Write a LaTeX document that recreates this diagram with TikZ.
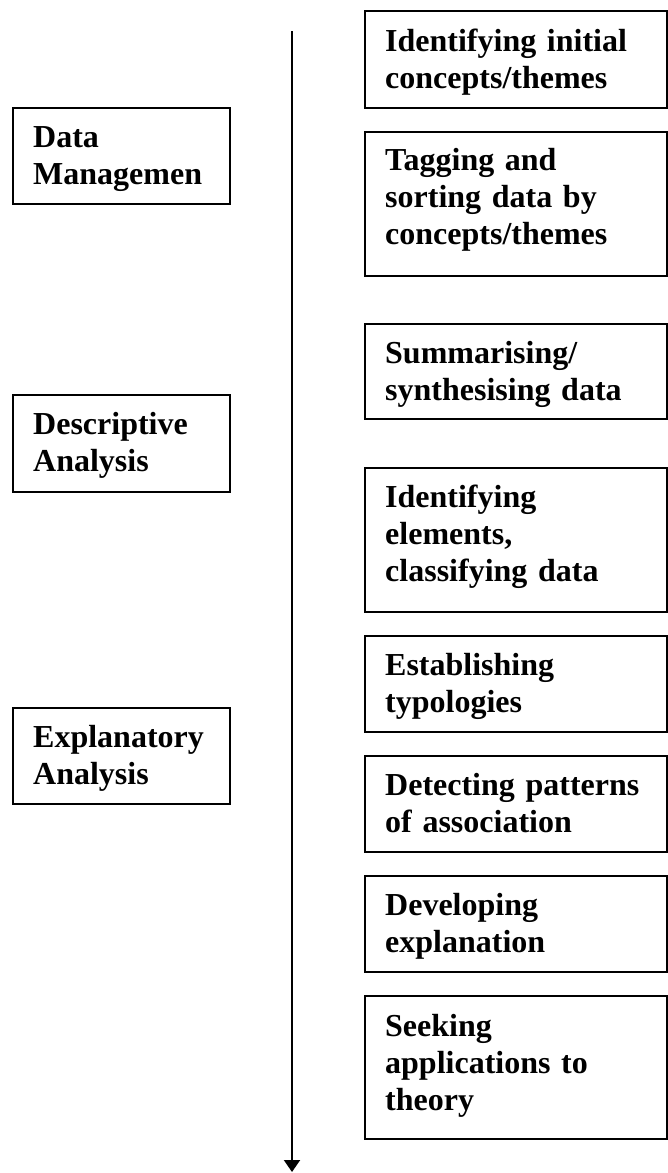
\documentclass[tikz,border=0pt]{standalone}
\usepackage{fontspec}
\setmainfont{Liberation Serif}
\usetikzlibrary{arrows.meta}

\begin{document}
\begin{tikzpicture}[x=1pt,y=-1pt,
  stagebox/.style={draw, line width=1.8pt, anchor=north west, inner sep=0pt,
    minimum width=217pt},
  stepbox/.style={draw, line width=1.8pt, anchor=north west, inner sep=0pt,
    minimum width=302pt},
  lbl/.style={anchor=base west, inner sep=0pt, text width=300pt, align=left,
    font=\fontsize{32}{37}\selectfont\bfseries},
]
\useasboundingbox (0,0) rectangle (667,1173);

% stage boxes on the left
\node[stagebox, minimum height=96pt] (dm) at (12,107) {};
\node[lbl] (dmT) at (33,147) {Data\\Managemen};
\node[stagebox, minimum height=97pt] (da) at (12,394) {};
\node[lbl] (daT) at (33,434) {Descriptive\\Analysis};
\node[stagebox, minimum height=96pt] (ea) at (12,707) {};
\node[lbl] (eaT) at (33,747) {Explanatory\\Analysis};

% process arrow
\coordinate (start) at (292,31);
\coordinate (finish) at (292,1172);
\draw[line width=2pt, -{Triangle[width=16pt,length=12pt]}] (start) -- (finish);

% step boxes on the right
\node[stepbox, minimum height=97pt] (s1) at (364,10) {};
\node[lbl] (s1T) at (385,51) {Identifying initial\\concepts/themes};
\node[stepbox, minimum height=144pt] (s2) at (364,131) {};
\node[lbl] (s2T) at (385,170) {Tagging and\\sorting data by\\concepts/themes};
\node[stepbox, minimum height=95pt] (s3) at (364,323) {};
\node[lbl] (s3T) at (385,363) {Summarising/\\synthesising data};
\node[stepbox, minimum height=144pt] (s4) at (364,467) {};
\node[lbl] (s4T) at (385,507) {Identifying\\elements,\\classifying data};
\node[stepbox, minimum height=96pt] (s5) at (364,635) {};
\node[lbl] (s5T) at (385,675) {Establishing\\typologies};
\node[stepbox, minimum height=96pt] (s6) at (364,755) {};
\node[lbl] (s6T) at (385,795) {Detecting patterns\\of association};
\node[stepbox, minimum height=96pt] (s7) at (364,875) {};
\node[lbl] (s7T) at (385,915) {Developing\\explanation};
\node[stepbox, minimum height=143pt] (s8) at (364,995) {};
\node[lbl] (s8T) at (385,1036) {Seeking\\applications to\\theory};
\end{tikzpicture}
\end{document}
